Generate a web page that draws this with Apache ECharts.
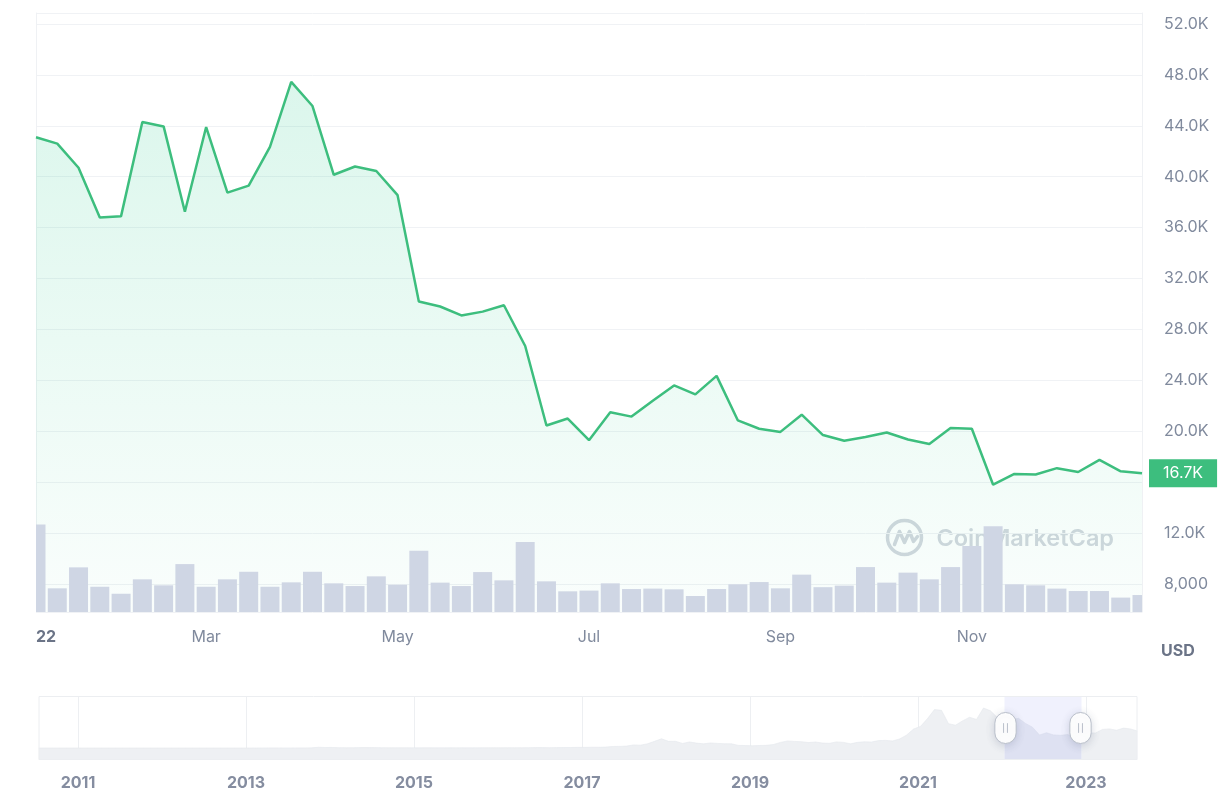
<!DOCTYPE html>
<html>
<head>
<meta charset="utf-8">
<script src="https://cdn.jsdelivr.net/npm/echarts@6/dist/echarts.min.js"></script>
<style>
html,body{margin:0;padding:0;background:#ffffff;}
#chart{width:1232px;height:810px;}
</style>
</head>
<body>
<div id="chart"></div>
<script>
// ---- weekly categories (2022) ----
const weeks = [
  '2022-01-07','2022-01-14','2022-01-21','2022-01-28',
  '2022-02-04','2022-02-11','2022-02-18','2022-02-25',
  '2022-03-04','2022-03-11','2022-03-18','2022-03-25',
  '2022-04-01','2022-04-08','2022-04-15','2022-04-22','2022-04-29',
  '2022-05-06','2022-05-13','2022-05-20','2022-05-27',
  '2022-06-03','2022-06-10','2022-06-17','2022-06-24',
  '2022-07-01','2022-07-08','2022-07-15','2022-07-22','2022-07-29',
  '2022-08-05','2022-08-12','2022-08-19','2022-08-26',
  '2022-09-02','2022-09-09','2022-09-16','2022-09-23','2022-09-30',
  '2022-10-07','2022-10-14','2022-10-21','2022-10-28',
  '2022-11-04','2022-11-11','2022-11-18','2022-11-25',
  '2022-12-02','2022-12-09','2022-12-16','2022-12-23','2022-12-30',
  '2023-01-06'
];
// ---- weekly price (USD) ----
const prices = [
  43100, 42600, 40700, 36800, 36900, 44300, 43950, 37250,
  43900, 38750, 39300, 42350, 47450, 45550, 40150, 40800, 40450,
  38550, 30200, 29800, 29100, 29400, 29900, 26700, 20450,
  21000, 19300, 21500, 21150, 22400, 23600, 22900, 24350, 20850,
  20200, 19950, 21300, 19700, 19250, 19550, 19900, 19350, 19000,
  20250, 20200, 15800, 16650, 16600, 17100, 16800, 17750, 16850,
  16700
];
// ---- weekly volume (billion USD) ----
const volumes = [
  614, 166, 313, 177, 128, 229, 187, 336,
  177, 229, 282, 177, 208, 282, 201, 182, 250,
  191, 429, 206, 182, 280, 222, 490, 215,
  145, 150, 201, 161, 164, 159, 112, 161, 194,
  210, 166, 262, 174, 185, 315, 206, 276, 229,
  315, 462, 602, 194, 187, 164, 147, 147, 101,
  119
];
// ---- x tick labels (index into weeks) ----
const xTickIndex = [0, 8, 17, 26, 35, 44];
const xTickText  = ['22', 'Mar', 'May', 'Jul', 'Sep', 'Nov'];
// ---- price axis range ----
const priceMin = 5800, priceMax = 52860, priceStep = 4000;
const volumeMax = 4200;
const latestPrice = 16700;

// ---- full history (monthly, Jul 2010 - Aug 2023) for the navigator ----
const historyStartYear = 2010, historyStartMonth = 7;
const historyPrices = [
  0.07, 0.06, 0.06, 0.19, 0.21, 0.30,
  0.5, 0.9, 0.8, 3.5, 8.7, 16, 13, 8.2, 5.1, 3.2, 3.0, 4.7,
  5.5, 4.9, 4.9, 5.0, 5.2, 6.7, 9.3, 10.2, 12.4, 11.2, 12.6, 13.5,
  20, 33, 93, 139, 129, 97, 106, 135, 133, 204, 1130, 757,
  830, 550, 457, 448, 628, 640, 587, 478, 387, 338, 378, 320,
  217, 254, 244, 236, 230, 263, 284, 231, 236, 314, 377, 430,
  368, 437, 416, 448, 531, 673, 624, 574, 609, 700, 745, 963,
  970, 1190, 1080, 1350, 2300, 2480, 2880, 4700, 4340, 6470, 10200, 14150,
  10200, 10300, 6970, 9240, 7500, 6400, 7730, 7030, 6630, 6370, 4020, 3740,
  3460, 3850, 4110, 5350, 8570, 10800, 10100, 9630, 8290, 9200, 7570, 7190,
  9350, 8600, 6440, 8660, 9460, 9140, 11350, 11680, 10780, 13800, 19700, 29000,
  33100, 45100, 58900, 57700, 37300, 35000, 41500, 47100, 43800, 61300, 57000, 46300,
  38500, 43200, 45500, 37700, 31800, 19900, 23300, 20050, 19400, 20500, 17200, 16500,
  23100, 23100, 28500, 29300, 27200, 30500, 29200, 26000
];
const yearTicks = [2011, 2013, 2015, 2017, 2019, 2021, 2023];
const windowStart = '2022-01', windowEnd = '2022-12';

// derived month categories for the navigator
const historyMonths = historyPrices.map(function (_, i) {
  const m = historyStartMonth - 1 + i;
  const y = historyStartYear + Math.floor(m / 12);
  const mm = (m % 12) + 1;
  return y + '-' + (mm < 10 ? '0' + mm : mm);
});
const yearMin = historyStartYear + (historyStartMonth - 1) / 12;
const yearMax = yearMin + (historyPrices.length - 1) / 12;

function fmtPrice(v) {
  if (v >= 10000) return (v / 1000).toFixed(1) + 'K';
  return Math.round(v).toLocaleString('en-US');
}

const FONT = 'Inter';
const GRID_L = 36, GRID_R = 90, GRID_T = 13, GRID_B = 198;
const NAV = { left: 36, right: 97, top: 696, height: 64 };
const BAR_RATIO = 0.893;

const chart = echarts.init(document.getElementById('chart'), null, { renderer: 'canvas' });

function renderVolumeBar(params, api) {
  const idx = api.value(0);
  const v = api.value(1);
  const top = api.coord([idx, v]);
  const base = api.coord([idx, 0]);
  const w = api.size([1, 0])[0] * BAR_RATIO;
  const cs = params.coordSys;
  const rect = echarts.graphic.clipRectByRect(
    { x: top[0] - w / 2, y: top[1], width: w, height: base[1] - top[1] },
    { x: cs.x, y: cs.y, width: cs.width, height: cs.height }
  );
  if (!rect) return null;
  return { type: 'rect', shape: rect, style: { fill: '#CFD6E4' } };
}

const option = {
  animation: false,
  backgroundColor: '#ffffff',
  textStyle: { fontFamily: FONT },
  grid: [
    { left: GRID_L, right: GRID_R, top: GRID_T, bottom: GRID_B, outerBoundsMode: 'none' },
    { left: NAV.left, right: NAV.right, top: NAV.top, height: NAV.height, outerBoundsMode: 'none' },
    { left: NAV.left, right: NAV.right, top: NAV.top, height: NAV.height, outerBoundsMode: 'none' }
  ],
  xAxis: [
    {
      type: 'category', gridIndex: 0, data: weeks, boundaryGap: false,
      axisLine: { show: false }, axisTick: { show: false }, splitLine: { show: false },
      axisLabel: {
        margin: 17, fontSize: 16, color: '#808A9D', fontFamily: FONT,
        alignMinLabel: 'left',
        interval: function (idx) { return xTickIndex.indexOf(idx) >= 0; },
        formatter: function (val, idx) {
          const k = xTickIndex.indexOf(idx);
          if (k < 0) return '';
          return k === 0 ? '{y|' + xTickText[k] + '}' : xTickText[k];
        },
        rich: { y: { fontSize: 16, fontWeight: 700, color: '#6B7487', fontFamily: FONT } }
      }
    },
    {
      type: 'value', gridIndex: 1, min: yearMin, max: yearMax,
      axisLine: { show: false },
      splitLine: { show: false },
      axisTick: { show: true, inside: true, length: NAV.height, customValues: yearTicks,
        lineStyle: { color: '#EDEFF2', width: 1 } },
      axisLabel: { customValues: yearTicks, margin: 15, fontSize: 16, fontWeight: 700,
        color: '#858DA0', fontFamily: FONT, formatter: function (v) { return String(v); } }
    },
    {
      type: 'category', gridIndex: 2, data: historyMonths, show: false, boundaryGap: false
    }
  ],
  yAxis: [
    {
      type: 'value', gridIndex: 0, position: 'right',
      min: priceMin, max: priceMax, minInterval: priceStep, maxInterval: priceStep, splitNumber: 11,
      axisLine: { show: true, lineStyle: { color: '#EFF1F4', width: 1 } },
      axisTick: { show: false },
      splitLine: { show: true, lineStyle: { color: '#F0F2F5', width: 1 } },
      axisLabel: {
        showMinLabel: false, showMaxLabel: false, margin: 22,
        fontSize: 16, color: '#808A9D', fontFamily: FONT,
        formatter: fmtPrice
      },
      name: 'USD', nameLocation: 'start', nameGap: 39,
      nameTextStyle: { align: 'left', verticalAlign: 'middle', padding: [0, 0, 0, 19],
        fontSize: 16, fontWeight: 700, color: '#6B7487', fontFamily: FONT }
    },
    {
      type: 'value', gridIndex: 0, position: 'left', min: 0, max: volumeMax,
      axisLine: { show: true, lineStyle: { color: '#EFF1F4', width: 1 } },
      axisTick: { show: false }, axisLabel: { show: false }, splitLine: { show: false }
    },
    { type: 'value', gridIndex: 1, min: 0, max: 1, show: false },
    { type: 'value', gridIndex: 2, show: false }
  ],
  dataZoom: [
    {
      type: 'slider', xAxisIndex: 2, filterMode: 'filter',
      startValue: windowStart, endValue: windowEnd,
      left: NAV.left, right: NAV.right, top: NAV.top, height: NAV.height,
      backgroundColor: 'rgba(0,0,0,0)', borderColor: '#ECEEF1', borderRadius: 0,
      showDataShadow: true, showDetail: false, brushSelect: false,
      moveHandleSize: 0,
      dataBackground: {
        lineStyle: { color: '#E4E7EC', width: 0.6, opacity: 1 },
        areaStyle: { color: '#EEF0F3', opacity: 1 }
      },
      selectedDataBackground: {
        lineStyle: { color: '#E4E7EC', width: 0.6, opacity: 1 },
        areaStyle: { color: '#EBEDF3', opacity: 1 }
      },
      fillerColor: 'rgba(120,132,235,0.11)',
      handleIcon: 'path://M11,0 A11,11 0 0 1 22,11 L22,21 A11,11 0 0 1 11,32 A11,11 0 0 1 0,21 L0,11 A11,11 0 0 1 11,0 Z M9,11 L9,21 M13,11 L13,21',
      handleSize: 31,
      handleStyle: { color: '#ffffff', borderColor: '#B9BFCA', borderWidth: 1,
        shadowBlur: 8, shadowColor: 'rgba(88,102,126,0.22)', shadowOffsetY: 2 },
      emphasis: { handleStyle: { color: '#ffffff', borderColor: '#B9BFCA' } },
      textStyle: { color: 'rgba(0,0,0,0)' }
    }
  ],
  graphic: [
    {
      type: 'group', left: 885, top: 518, z: 1, silent: true,
      children: [
        { type: 'circle', shape: { cx: 19, cy: 19, r: 17 },
          style: { fill: 'none', stroke: '#D2D7DE', lineWidth: 3.5 } },
        { type: 'polyline', shape: { points: [[9, 26], [14, 13], [19, 24], [24, 13], [28, 23], [32, 18]] },
          style: { fill: 'none', stroke: '#D2D7DE', lineWidth: 3.5, lineJoin: 'round', lineCap: 'round' } },
        { type: 'text', x: 51, y: 20,
          style: { text: 'CoinMarketCap', fill: '#D2D7DE', font: '600 23.5px Inter', verticalAlign: 'middle' } }
      ]
    }
  ],
  series: [
    {
      name: 'Price', type: 'line', xAxisIndex: 0, yAxisIndex: 0, data: prices,
      symbol: 'none', showSymbol: false, smooth: false, z: 2,
      lineStyle: { color: '#3DBE7E', width: 2.5 },
      areaStyle: {
        origin: 'start',
        color: new echarts.graphic.LinearGradient(0, 0, 0, 1, [
          { offset: 0, color: 'rgba(22,199,132,0.22)' },
          { offset: 1, color: 'rgba(22,199,132,0.03)' }
        ])
      },
      markLine: {
        silent: true, symbol: ['none', 'none'], animation: false,
        lineStyle: { color: 'rgba(0,0,0,0)', width: 1 },
        data: [{ yAxis: latestPrice }],
        label: {
          show: true, position: 'end', distance: 7,
          formatter: function () { return fmtPrice(latestPrice); },
          color: '#ffffff', backgroundColor: '#3DBE7E',
          padding: [6, 14, 6, 14], fontSize: 16, lineHeight: 16, fontFamily: FONT
        }
      }
    },
    {
      name: 'Volume', type: 'custom', xAxisIndex: 0, yAxisIndex: 1,
      data: volumes.map(function (v, i) { return [i, v]; }),
      encode: { x: 0, y: 1 }, renderItem: renderVolumeBar, z: 3, silent: true
    },
    {
      name: 'History', type: 'line', xAxisIndex: 2, yAxisIndex: 3, data: historyPrices,
      symbol: 'none', silent: true, lineStyle: { opacity: 0 }
    }
  ]
};

chart.setOption(option);
</script>
</body>
</html>
